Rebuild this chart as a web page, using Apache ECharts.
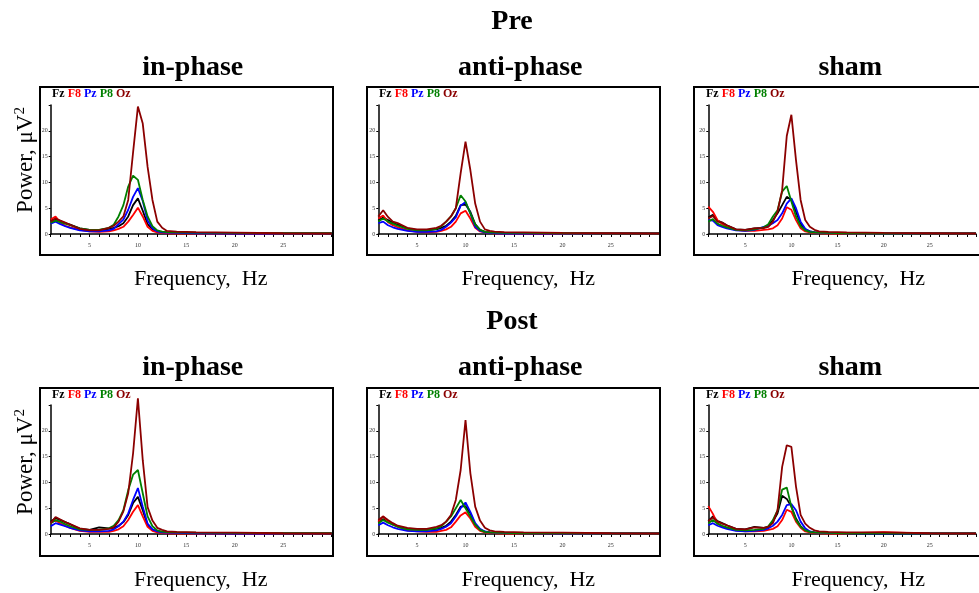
<!DOCTYPE html>
<html>
<head>
<meta charset="utf-8">
<script src="https://cdn.jsdelivr.net/npm/echarts@6/dist/echarts.min.js"></script>
<style>
  body { margin: 0; background: #fff; }
  #chart { width: 979px; height: 593px; }
</style>
</head>
<body>
<div id="chart"></div>
<script>
// frequency grid, Hz
const freq = [1, 1.5, 2, 2.5, 3, 4, 5, 6, 7, 7.5, 8, 8.5, 9, 9.5, 10, 10.5, 11, 11.5, 12, 12.5, 13, 14, 16, 20, 25, 30]

const channels = ['Fz', 'F8', 'Pz', 'P8', 'Oz']
const channelColors = ['#000000', '#ff0000', '#0000ff', '#008000', '#8b0000']

const xTickLabels = [5, 10, 15, 20, 25]
const yTickLabels = [0, 5, 10, 15, 20]

const rowTitles = ['Pre', 'Post']
const colTitles = ['in-phase', 'anti-phase', 'sham']

// power per channel, rows in channel order Fz, F8, Pz, P8, Oz
const preInPhase = [
  [2.6, 2.9, 2.5, 2.1, 1.8, 1.1, 0.8, 0.8, 1.0, 1.2, 1.5, 2.1, 3.4, 5.6, 6.9, 4.5, 1.9, 0.9, 0.5, 0.35, 0.3, 0.25, 0.2, 0.15, 0.1, 0.1],
  [2.8, 3.4, 2.2, 1.6, 1.3, 0.8, 0.5, 0.4, 0.5, 0.7, 1.0, 1.4, 2.4, 3.7, 5.1, 3.4, 1.4, 0.6, 0.3, 0.2, 0.15, 0.1, 0.1, 0.1, 0.05, 0.05],
  [2.0, 2.4, 1.9, 1.5, 1.2, 0.7, 0.5, 0.5, 0.7, 1.0, 1.9, 2.8, 4.7, 7.2, 8.9, 6.4, 2.6, 1.1, 0.5, 0.3, 0.25, 0.2, 0.15, 0.1, 0.1, 0.1],
  [2.2, 2.6, 2.3, 2.0, 1.7, 1.1, 0.8, 0.8, 1.2, 1.8, 3.4, 5.6, 9.2, 11.3, 10.5, 6.6, 3.4, 1.5, 0.7, 0.45, 0.35, 0.3, 0.25, 0.2, 0.15, 0.15],
  [2.4, 3.0, 2.6, 2.2, 1.8, 1.0, 0.7, 0.7, 1.2, 1.6, 2.4, 3.4, 6.6, 15.8, 24.7, 21.4, 13.0, 6.6, 2.4, 1.2, 0.6, 0.45, 0.35, 0.25, 0.15, 0.1]
]
const preAntiPhase = [
  [2.6, 3.2, 2.7, 2.2, 1.8, 1.1, 0.7, 0.7, 0.9, 1.2, 1.6, 2.4, 3.5, 5.6, 5.7, 4.3, 1.9, 0.8, 0.4, 0.3, 0.25, 0.2, 0.15, 0.1, 0.1, 0.1],
  [3.0, 3.6, 2.3, 1.7, 1.3, 0.7, 0.4, 0.3, 0.4, 0.6, 0.9, 1.4, 2.4, 4.0, 4.5, 3.0, 1.2, 0.5, 0.3, 0.2, 0.1, 0.1, 0.1, 0.05, 0.05, 0.05],
  [2.1, 2.4, 1.7, 1.3, 1.0, 0.6, 0.4, 0.4, 0.5, 0.8, 1.4, 2.2, 3.2, 5.5, 6.2, 4.0, 1.4, 0.6, 0.3, 0.2, 0.15, 0.1, 0.1, 0.1, 0.1, 0.1],
  [2.4, 3.0, 2.4, 2.0, 1.6, 1.0, 0.7, 0.7, 1.0, 1.5, 2.4, 3.4, 5.0, 7.5, 6.3, 4.0, 1.8, 0.8, 0.4, 0.3, 0.25, 0.2, 0.2, 0.15, 0.1, 0.1],
  [3.4, 4.6, 3.3, 2.4, 2.1, 1.2, 0.9, 0.9, 1.2, 1.6, 2.4, 3.4, 5.0, 11.8, 17.9, 12.4, 5.9, 2.4, 0.9, 0.6, 0.45, 0.35, 0.3, 0.2, 0.15, 0.1]
]
const preSham = [
  [3.2, 3.7, 2.6, 2.2, 1.7, 0.9, 0.8, 1.1, 1.2, 1.6, 2.7, 4.0, 5.6, 7.2, 6.6, 4.3, 2.0, 0.9, 0.5, 0.35, 0.3, 0.25, 0.2, 0.15, 0.1, 0.1],
  [5.3, 4.3, 2.7, 1.9, 1.4, 0.8, 0.6, 0.6, 0.8, 0.9, 1.1, 1.7, 3.0, 5.2, 4.7, 2.7, 1.1, 0.5, 0.3, 0.2, 0.15, 0.1, 0.1, 0.1, 0.05, 0.05],
  [2.7, 2.6, 1.7, 1.4, 1.1, 0.7, 0.6, 0.8, 1.4, 1.6, 2.1, 2.7, 4.0, 5.9, 6.9, 5.0, 2.4, 1.0, 0.5, 0.3, 0.25, 0.2, 0.15, 0.1, 0.1, 0.1],
  [2.4, 2.9, 2.0, 1.6, 1.3, 0.8, 0.7, 0.9, 1.3, 1.9, 3.4, 4.6, 8.2, 9.3, 6.3, 3.4, 1.5, 0.7, 0.4, 0.3, 0.25, 0.2, 0.15, 0.1, 0.1, 0.1],
  [3.0, 3.5, 2.4, 2.2, 1.7, 0.9, 0.8, 1.1, 1.2, 1.4, 2.4, 4.3, 8.5, 19.0, 23.1, 14.3, 6.6, 2.7, 1.4, 0.8, 0.5, 0.4, 0.3, 0.2, 0.15, 0.1]
]
const postInPhase = [
  [2.4, 3.1, 2.7, 2.3, 1.9, 1.0, 0.8, 1.3, 1.1, 1.2, 1.6, 2.3, 3.7, 6.0, 7.2, 4.6, 1.7, 0.8, 0.5, 0.35, 0.3, 0.25, 0.2, 0.15, 0.1, 0.1],
  [2.1, 2.7, 2.0, 1.6, 1.2, 0.6, 0.4, 0.4, 0.4, 0.6, 0.9, 1.5, 2.7, 4.3, 5.6, 3.4, 1.4, 0.6, 0.3, 0.2, 0.15, 0.1, 0.1, 0.1, 0.05, 0.05],
  [1.5, 2.1, 1.8, 1.5, 1.2, 0.7, 0.5, 0.5, 0.6, 0.9, 1.5, 2.4, 4.0, 6.6, 8.9, 5.3, 2.0, 0.9, 0.5, 0.3, 0.25, 0.2, 0.15, 0.1, 0.1, 0.1],
  [2.1, 2.7, 2.4, 1.9, 1.5, 0.9, 0.8, 0.8, 1.1, 1.6, 2.7, 4.6, 8.5, 11.5, 12.4, 7.9, 3.4, 1.5, 0.7, 0.45, 0.35, 0.3, 0.25, 0.2, 0.15, 0.15],
  [2.1, 3.3, 2.8, 2.3, 1.9, 1.1, 0.8, 0.8, 1.0, 1.3, 2.4, 4.4, 7.9, 15.6, 26.3, 14.3, 5.2, 2.6, 1.2, 0.8, 0.5, 0.4, 0.3, 0.25, 0.15, 0.1]
]
const postAntiPhase = [
  [2.3, 2.9, 2.4, 1.9, 1.5, 1.0, 0.8, 0.8, 1.0, 1.2, 1.6, 2.4, 3.7, 5.3, 5.4, 4.0, 1.8, 0.8, 0.4, 0.3, 0.25, 0.2, 0.15, 0.1, 0.1, 0.1],
  [2.4, 3.4, 2.4, 1.8, 1.4, 0.7, 0.5, 0.4, 0.4, 0.6, 0.8, 1.3, 2.4, 3.6, 4.2, 3.0, 1.4, 0.6, 0.3, 0.2, 0.15, 0.1, 0.1, 0.1, 0.05, 0.05],
  [1.7, 2.2, 1.7, 1.3, 1.0, 0.6, 0.5, 0.5, 0.7, 1.0, 1.4, 2.1, 3.4, 5.0, 6.1, 4.3, 2.1, 1.0, 0.5, 0.3, 0.25, 0.2, 0.15, 0.1, 0.1, 0.1],
  [2.1, 2.7, 2.2, 1.8, 1.4, 0.9, 0.8, 0.8, 1.1, 1.5, 2.4, 3.4, 5.0, 6.6, 5.0, 3.4, 1.8, 0.8, 0.4, 0.3, 0.25, 0.2, 0.15, 0.15, 0.1, 0.1],
  [2.7, 3.4, 2.7, 2.1, 1.6, 1.2, 1.0, 1.0, 1.4, 1.7, 2.4, 3.7, 6.6, 12.4, 22.1, 11.8, 5.3, 2.6, 1.2, 0.7, 0.5, 0.4, 0.3, 0.25, 0.15, 0.1]
]
const postSham = [
  [2.5, 3.4, 2.5, 2.1, 1.7, 1.0, 0.9, 1.4, 1.2, 1.4, 2.4, 4.0, 7.4, 6.8, 5.3, 3.0, 1.5, 0.7, 0.4, 0.3, 0.25, 0.2, 0.15, 0.1, 0.1, 0.1],
  [5.4, 3.9, 2.0, 1.5, 1.2, 0.7, 0.5, 0.5, 0.6, 0.8, 1.0, 1.5, 2.7, 4.7, 4.3, 2.4, 1.2, 0.5, 0.3, 0.2, 0.15, 0.1, 0.1, 0.35, 0.05, 0.05],
  [1.7, 2.1, 1.6, 1.3, 1.0, 0.6, 0.5, 0.6, 0.8, 1.1, 1.6, 2.4, 3.7, 5.6, 5.8, 4.6, 2.4, 1.1, 0.5, 0.3, 0.25, 0.2, 0.15, 0.1, 0.1, 0.1],
  [2.1, 2.7, 2.0, 1.6, 1.3, 0.8, 0.7, 0.8, 1.0, 1.5, 2.7, 4.6, 8.6, 9.0, 5.3, 2.7, 1.4, 0.7, 0.4, 0.3, 0.25, 0.2, 0.15, 0.15, 0.1, 0.1],
  [2.5, 3.2, 2.4, 2.0, 1.7, 1.0, 0.9, 1.3, 1.2, 1.4, 2.1, 4.6, 13.0, 17.2, 16.9, 9.2, 3.7, 2.0, 1.2, 0.7, 0.5, 0.4, 0.3, 0.3, 0.15, 0.1]
]

const panels = [
  [preInPhase, preAntiPhase, preSham],
  [postInPhase, postAntiPhase, postSham]
]

const font = "'Liberation Serif', 'Times New Roman', serif"
const plotLeft = [50.7, 378.3, 708.3]
const plotTop = [105, 405]
const boxLeft = [40, 367, 694]
const boxTop = [87, 388]

const grid = []
const xAxis = []
const yAxis = []
const series = []
const legend = []
const graphic = []

rowTitles.forEach((title, r) => {
  graphic.push({
    type: 'text', x: 512, y: 22 + r * 300,
    style: { text: title, font: `bold 28px ${font}`, fill: '#000', align: 'center', verticalAlign: 'middle' }
  })
  graphic.push({
    type: 'text', x: 26, y: 160 + r * 302, rotation: Math.PI / 2,
    style: {
      text: '{a|Power, μV}{s|2}', align: 'center', verticalAlign: 'middle',
      rich: {
        a: { font: `23px ${font}`, fill: '#000', lineHeight: 26 },
        s: { font: `15px ${font}`, fill: '#000', verticalAlign: 'top', lineHeight: 26 }
      }
    }
  })

  colTitles.forEach((sub, c) => {
    const idx = r * 3 + c
    grid.push({ left: plotLeft[c], top: plotTop[r], width: 281, height: 129 })

    xAxis.push({
      type: 'value', gridIndex: idx, min: 1, max: 30, interval: 1,
      axisLine: { lineStyle: { color: '#000', width: 1.5 } },
      axisTick: { length: 3, lineStyle: { color: '#000' } },
      axisLabel: {
        fontSize: 6, fontFamily: font, color: '#333', margin: 8,
        formatter: v => xTickLabels.includes(v) ? String(v) : ''
      },
      splitLine: { show: false }
    })
    yAxis.push({
      type: 'value', gridIndex: idx, min: 0, max: 25, interval: 5,
      axisLine: { show: true, lineStyle: { color: '#000', width: 1.5 } },
      axisTick: { show: true, length: 2, lineStyle: { color: '#000' } },
      axisLabel: {
        fontSize: 6, fontFamily: font, color: '#333', margin: 3,
        formatter: v => yTickLabels.includes(v) ? String(v) : ''
      },
      splitLine: { show: false }
    })

    panels[r][c].forEach((vals, k) => {
      series.push({
        name: channels[k], type: 'line', xAxisIndex: idx, yAxisIndex: idx,
        data: freq.map((f, i) => [f, vals[i]]),
        showSymbol: false, clip: false,
        lineStyle: { color: channelColors[k], width: 1.8 },
        itemStyle: { color: channelColors[k] }
      })
    })

    legend.push({
      left: boxLeft[c] + 7, top: boxTop[r] + 1, icon: 'none', itemWidth: 0, itemHeight: 12,
      itemGap: -2, padding: 0, selectedMode: false,
      textStyle: { fontFamily: font, fontWeight: 'bold', fontSize: 12 },
      data: channels.map((n, k) => ({ name: n, textStyle: { color: channelColors[k] } }))
    })

    graphic.push({
      type: 'rect', shape: { x: boxLeft[c], y: boxTop[r], width: 293, height: 168 },
      style: { fill: 'none', stroke: '#000', lineWidth: 2 }, z: 100
    })
    graphic.push({
      type: 'text', x: plotLeft[c] + 142, y: 68 + r * 300,
      style: { text: sub, font: `bold 28px ${font}`, fill: '#000', align: 'center', verticalAlign: 'middle' }
    })
    graphic.push({
      type: 'text', x: plotLeft[c] + 150, y: 279 + r * 301,
      style: { text: 'Frequency,  Hz', font: `22px ${font}`, fill: '#000', align: 'center', verticalAlign: 'middle' }
    })
  })
})

const chart = echarts.init(document.getElementById('chart'))
chart.setOption({
  animation: false,
  backgroundColor: '#fff',
  grid, xAxis, yAxis, series, legend, graphic
})
window.addEventListener('resize', () => chart.resize())
</script>
</body>
</html>
